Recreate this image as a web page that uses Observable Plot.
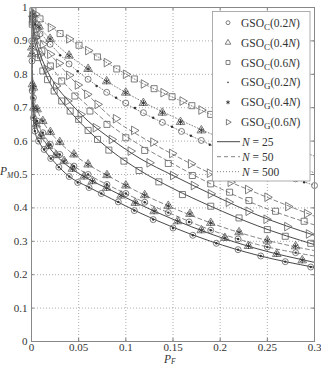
<!DOCTYPE html>
<html>
<head>
<meta charset="utf-8">
<script src="https://cdn.jsdelivr.net/npm/d3@7"></script>
<script src="https://cdn.jsdelivr.net/npm/@observablehq/plot@0.6"></script>
<style>
  body { margin: 0; background: #fff; }
  svg { display: block; }
</style>
</head>
<body>
<div id="chart"></div>
<script>
// Axis ticks
const xTicks = [0, 0.05, 0.1, 0.15, 0.2, 0.25, 0.3];
const xTickLabels = ["0", "0.05", "0.1", "0.15", "0.2", "0.25", "0.3"];
const yTicks = [0, 0.1, 0.2, 0.3, 0.4, 0.5, 0.6, 0.7, 0.8, 0.9, 1];
const yTickLabels = ["0", "0.1", "0.2", "0.3", "0.4", "0.5", "0.6", "0.7", "0.8", "0.9", "1"];

// Analytical curves: P_M at these P_F values
const pf = [0, 0.0005, 0.0015, 0.004, 0.008, 0.015, 0.025, 0.04, 0.06, 0.085, 0.115, 0.15, 0.19, 0.24, 0.3];
// N = 25
const pm25_02  = [1, 0.78, 0.69, 0.625, 0.598, 0.568, 0.535, 0.494, 0.463, 0.427, 0.385, 0.342, 0.300, 0.258, 0.222];
const pm25_04  = [1, 0.82, 0.73, 0.660, 0.625, 0.595, 0.560, 0.522, 0.487, 0.452, 0.410, 0.366, 0.322, 0.277, 0.237];
const pm25_06C = [1, 0.97, 0.935, 0.89, 0.85, 0.80, 0.748, 0.692, 0.632, 0.570, 0.512, 0.458, 0.405, 0.346, 0.290];
const pm25_06G = [1, 0.975, 0.95, 0.91, 0.87, 0.82, 0.770, 0.718, 0.660, 0.605, 0.548, 0.497, 0.442, 0.378, 0.318];
// N = 50
const pm50_02  = [1, 0.84, 0.75, 0.680, 0.645, 0.610, 0.575, 0.535, 0.500, 0.463, 0.423, 0.380, 0.334, 0.290, 0.256];
const pm50_04  = [1, 0.86, 0.78, 0.715, 0.680, 0.645, 0.610, 0.570, 0.530, 0.490, 0.445, 0.400, 0.355, 0.310, 0.272];
const pm50_06C = [1, 0.98, 0.958, 0.925, 0.89, 0.85, 0.807, 0.758, 0.705, 0.645, 0.588, 0.532, 0.472, 0.408, 0.349];
const pm50_06G = [1, 0.987, 0.968, 0.943, 0.913, 0.878, 0.843, 0.795, 0.738, 0.670, 0.615, 0.560, 0.503, 0.443, 0.375];
// N = 500
const pm500_02 = [1, 0.985, 0.97, 0.95, 0.932, 0.905, 0.875, 0.831, 0.785, 0.737, 0.689, 0.641, 0.589, 0.530, 0.467];
const pm500_04 = [1, 0.99, 0.98, 0.962, 0.943, 0.92, 0.893, 0.856, 0.816, 0.770, 0.722, 0.673, 0.622, 0.565, 0.505];
const pm500_06 = [1, 0.996, 0.99, 0.98, 0.969, 0.953, 0.933, 0.905, 0.871, 0.826, 0.777, 0.731, 0.680, 0.620, 0.555];

// Simulated points [P_F, P_M]
const simC02_25 = [[0.0002,0.9],[0.0008,0.75],[0.002,0.67],[0.0035,0.63],[0.0075,0.60],[0.0134,0.575],[0.0204,0.548],[0.029,0.522],[0.04,0.494],[0.049,0.476],[0.061,0.461],[0.074,0.443],[0.092,0.418],[0.109,0.392],[0.129,0.365],[0.15,0.34],[0.171,0.318],[0.196,0.294],[0.219,0.275],[0.243,0.256],[0.269,0.239],[0.296,0.223]];
const simG02_25 = [[0.0002,0.9],[0.0008,0.75],[0.002,0.67],[0.0035,0.63],[0.0075,0.60],[0.0134,0.575],[0.0204,0.548],[0.029,0.522],[0.04,0.494],[0.049,0.476],[0.061,0.461],[0.074,0.443],[0.092,0.418],[0.109,0.392],[0.129,0.365],[0.15,0.34],[0.171,0.318],[0.196,0.294],[0.219,0.275],[0.243,0.256],[0.269,0.239],[0.296,0.223]];
const simC04_25 = [[0.0003,0.88],[0.001,0.77],[0.0025,0.70],[0.005,0.65],[0.01,0.615],[0.018,0.585],[0.026,0.558],[0.0346,0.54],[0.0434,0.517],[0.0557,0.494],[0.0646,0.48],[0.0797,0.46],[0.095,0.437],[0.11,0.415],[0.13,0.39],[0.155,0.36],[0.18,0.333],[0.205,0.31],[0.23,0.286],[0.26,0.262],[0.287,0.243]];
const simG04_25 = [[0.0003,0.88],[0.001,0.77],[0.0025,0.70],[0.005,0.65],[0.01,0.615],[0.018,0.585],[0.026,0.558],[0.0346,0.54],[0.0434,0.517],[0.0557,0.494],[0.0646,0.48],[0.0797,0.46],[0.095,0.437],[0.11,0.415],[0.13,0.39],[0.155,0.36],[0.18,0.333],[0.205,0.31],[0.23,0.286],[0.26,0.262],[0.287,0.243]];
const simC06_25 = [[0.0008,0.95],[0.003,0.9],[0.007,0.85],[0.012,0.81],[0.017,0.784],[0.024,0.75],[0.032,0.72],[0.041,0.69],[0.05,0.665],[0.06,0.632],[0.07,0.605],[0.082,0.573],[0.098,0.54],[0.114,0.512],[0.135,0.478],[0.16,0.44],[0.19,0.405],[0.22,0.37],[0.25,0.335],[0.269,0.315],[0.296,0.294]];
const simG06_25 = [[0.001,0.96],[0.004,0.91],[0.009,0.86],[0.016,0.815],[0.026,0.765],[0.038,0.72],[0.052,0.68],[0.068,0.64],[0.085,0.605],[0.105,0.57],[0.125,0.535],[0.15,0.497],[0.172,0.467],[0.19,0.442],[0.209,0.417],[0.23,0.39],[0.249,0.366],[0.271,0.344],[0.294,0.322]];

const simC02_50 = [[0.0005,0.84],[0.002,0.73],[0.006,0.66],[0.012,0.625],[0.02,0.59],[0.03,0.56],[0.045,0.525],[0.06,0.5],[0.08,0.47],[0.1,0.443],[0.12,0.417],[0.145,0.386],[0.167,0.358],[0.19,0.333],[0.219,0.307],[0.25,0.283],[0.28,0.266]];
const simG02_50 = [[0.0005,0.84],[0.002,0.73],[0.006,0.66],[0.012,0.625],[0.02,0.59],[0.03,0.56],[0.045,0.525],[0.06,0.5],[0.08,0.47],[0.1,0.443],[0.12,0.417],[0.145,0.386],[0.167,0.358],[0.19,0.333],[0.219,0.307],[0.25,0.283],[0.28,0.266]];
const simC04_50 = [[0.0005,0.86],[0.002,0.76],[0.006,0.695],[0.012,0.66],[0.02,0.627],[0.03,0.597],[0.045,0.56],[0.06,0.53],[0.08,0.498],[0.1,0.467],[0.12,0.438],[0.145,0.406],[0.168,0.382],[0.19,0.355],[0.22,0.327],[0.25,0.302],[0.28,0.285]];
const simG04_50 = [[0.0005,0.86],[0.002,0.76],[0.006,0.695],[0.012,0.66],[0.02,0.627],[0.03,0.597],[0.045,0.56],[0.06,0.53],[0.08,0.498],[0.1,0.467],[0.12,0.438],[0.145,0.406],[0.168,0.382],[0.19,0.355],[0.22,0.327],[0.25,0.302],[0.28,0.285]];
const simC06_50 = [[0.001,0.965],[0.005,0.915],[0.011,0.87],[0.02,0.825],[0.032,0.78],[0.046,0.735],[0.062,0.69],[0.08,0.65],[0.1,0.61],[0.12,0.572],[0.145,0.533],[0.1705,0.497],[0.19,0.472],[0.21,0.447],[0.2305,0.422],[0.2587,0.39],[0.289,0.36]];
const simG06_50 = [[0.001,0.975],[0.005,0.935],[0.012,0.89],[0.0197,0.86],[0.029,0.833],[0.0398,0.797],[0.049,0.768],[0.059,0.74],[0.07,0.71],[0.0894,0.667],[0.1087,0.632],[0.129,0.597],[0.149,0.563],[0.169,0.532],[0.189,0.504],[0.211,0.477],[0.2295,0.455],[0.25,0.432],[0.272,0.404],[0.292,0.383]];

const simC02_500 = [[0.0015,0.97],[0.009,0.921],[0.0197,0.89],[0.0398,0.831],[0.06,0.785],[0.0797,0.746],[0.0999,0.714],[0.1186,0.685],[0.1387,0.656],[0.159,0.629],[0.18,0.602],[0.2,0.576],[0.22,0.552],[0.24,0.53],[0.26,0.507],[0.28,0.487],[0.3,0.467]];
const simG02_500 = [[0.004,0.95],[0.0303,0.857],[0.049,0.809],[0.069,0.765],[0.0897,0.73],[0.1097,0.699],[0.129,0.67],[0.149,0.643],[0.169,0.616],[0.189,0.589],[0.21,0.564],[0.23,0.541],[0.25,0.518],[0.27,0.497],[0.289,0.477]];
const simC04_500 = [[0.0015,0.98],[0.008,0.943],[0.0197,0.906],[0.0398,0.856],[0.06,0.816],[0.0797,0.779],[0.0999,0.745],[0.1186,0.714],[0.1387,0.685],[0.158,0.657],[0.18,0.632],[0.2,0.61],[0.22,0.587],[0.24,0.565],[0.26,0.545],[0.28,0.525]];
const simG04_500 = [[0.0015,0.98],[0.008,0.943],[0.0197,0.906],[0.0398,0.856],[0.06,0.816],[0.0797,0.779],[0.0999,0.745],[0.1186,0.714],[0.1387,0.685],[0.158,0.657],[0.18,0.632],[0.2,0.61],[0.22,0.587],[0.24,0.565],[0.26,0.545],[0.28,0.525]];
const simC06_500 = [[0.0015,0.99],[0.009,0.966],[0.0303,0.922],[0.0504,0.887],[0.0699,0.852],[0.0904,0.816],[0.109,0.786],[0.13,0.757],[0.149,0.733],[0.17,0.706],[0.19,0.68],[0.21,0.655],[0.23,0.632],[0.25,0.608],[0.27,0.585],[0.29,0.565]];
const simG06_500 = [[0.004,0.98],[0.0204,0.94],[0.0398,0.906],[0.06,0.871],[0.0797,0.835],[0.1,0.8],[0.119,0.771],[0.1398,0.745],[0.16,0.72],[0.18,0.693],[0.2,0.668],[0.22,0.643],[0.24,0.62],[0.26,0.597],[0.28,0.575]];

// Right-pointing open triangle marker
const triangleRight = {
  draw(ctx, size) {
    const y = Math.sqrt(size / (Math.sqrt(3) * 3));
    ctx.moveTo(2 * y, 0);
    ctx.lineTo(-y, -Math.sqrt(3) * y);
    ctx.lineTo(-y, Math.sqrt(3) * y);
    ctx.closePath();
  }
};

const markerGray = "#5e5e5e";
const styles = {
  C02: {symbol: d3.symbolCircle, r: 3, stroke: markerGray, fill: "none", strokeWidth: 0.8},
  C04: {symbol: d3.symbolTriangle, r: 3.2, stroke: markerGray, fill: "none", strokeWidth: 0.8},
  C06: {symbol: d3.symbolSquare, r: 3.4, stroke: markerGray, fill: "none", strokeWidth: 0.8},
  G02: {symbol: d3.symbolCircle, r: 1.2, stroke: "none", fill: "#333"},
  G04: {symbol: d3.symbolAsterisk, r: 2.8, stroke: "#333", fill: "none", strokeWidth: 0.9},
  G06: {symbol: triangleRight, r: 3.2, stroke: markerGray, fill: "none", strokeWidth: 0.8}
};

const lineGroups = [
  {n: 25, stroke: "#333", dash: null, width: 0.9, sets: [pm25_02, pm25_04, pm25_06C, pm25_06G]},
  {n: 50, stroke: "#666", dash: "4,3", width: 0.8, sets: [pm50_02, pm50_04, pm50_06C, pm50_06G]},
  {n: 500, stroke: "#777", dash: "1,2", width: 0.9, sets: [pm500_02, pm500_04, pm500_06]}
];

const simSets = [
  [simC02_25, "C02"], [simG02_25, "G02"], [simC04_25, "C04"], [simG04_25, "G04"], [simC06_25, "C06"], [simG06_25, "G06"],
  [simC02_50, "C02"], [simG02_50, "G02"], [simC04_50, "C04"], [simG04_50, "G04"], [simC06_50, "C06"], [simG06_50, "G06"],
  [simC02_500, "C02"], [simG02_500, "G02"], [simC04_500, "C04"], [simG04_500, "G04"], [simC06_500, "C06"], [simG06_500, "G06"]
];

const lineMarks = lineGroups.map(g => {
  const rows = g.sets.flatMap((pm, k) => pf.map((x, i) => ({pf: x, pm: pm[i], id: k})));
  return Plot.line(rows, {x: "pf", y: "pm", z: "id", stroke: g.stroke, strokeWidth: g.width,
    strokeDasharray: g.dash, curve: "monotone-x"});
});

const dotMarks = simSets.map(([data, key]) =>
  Plot.dot(data, {x: d => d[0], y: d => d[1], ...styles[key]}));

const gridStyle = {stroke: "#8a8a8a", strokeOpacity: 1, strokeWidth: 0.7, strokeDasharray: "1,2"};
const tickStroke = "#777";

const svg = Plot.plot({
  width: 321,
  height: 366,
  marginLeft: 31,
  marginRight: 7,
  marginTop: 7,
  marginBottom: 25,
  x: {domain: [0, 0.3]},
  y: {domain: [0, 1]},
  style: {fontFamily: "'Liberation Serif', 'DejaVu Serif', serif", fontSize: "11px", color: "#333", background: "#fff"},
  marks: [
    Plot.gridX(xTicks.slice(1, -1), gridStyle),
    Plot.gridY(yTicks.slice(1, -1), gridStyle),
    ...lineMarks,
    ...dotMarks,
    Plot.ruleX(xTicks, {x: d => d, y1: 0, y2: 0.009, stroke: tickStroke}),
    Plot.ruleX(xTicks, {x: d => d, y1: 0.991, y2: 1, stroke: tickStroke}),
    Plot.ruleY(yTicks, {y: d => d, x1: 0, x2: 0.003, stroke: tickStroke}),
    Plot.ruleY(yTicks, {y: d => d, x1: 0.297, x2: 0.3, stroke: tickStroke}),
    Plot.frame({stroke: "#888"}),
    Plot.axisX(xTicks, {tickSize: 0, tickPadding: 1.5, fontSize: 11, label: null,
      tickFormat: d => xTickLabels[xTicks.indexOf(d)]}),
    Plot.axisY(yTicks, {tickSize: 0, tickPadding: 4, fontSize: 11, label: null,
      tickFormat: d => yTickLabels[yTicks.indexOf(d)]})
  ]
});

document.getElementById("chart").appendChild(svg);

const root = d3.select(svg);
const serif = "'Liberation Serif', 'DejaVu Serif', serif";

// Axis titles
const xt = root.append("text").attr("x", 164).attr("y", 362.5).attr("text-anchor", "start")
  .attr("font-family", serif).attr("font-size", 11.5).attr("fill", "#333");
xt.append("tspan").attr("font-style", "italic").text("P");
xt.append("tspan").attr("font-style", "italic").attr("font-size", 7.5).attr("dy", 1.5).text("F");

const yt = root.append("text").attr("x", 0).attr("y", 175).attr("text-anchor", "start")
  .attr("font-family", serif).attr("font-size", 11.5).attr("fill", "#333");
yt.append("tspan").attr("font-style", "italic").text("P");
yt.append("tspan").attr("font-style", "italic").attr("font-size", 7.5).attr("dy", 3).text("M");

// Legend
const legend = [
  {sub: "C", frac: "0.2", key: "C02"},
  {sub: "C", frac: "0.4", key: "C04"},
  {sub: "C", frac: "0.6", key: "C06"},
  {sub: "G", frac: "0.2", key: "G02"},
  {sub: "G", frac: "0.4", key: "G04"},
  {sub: "G", frac: "0.6", key: "G06"}
];
const lg = root.append("g").attr("font-family", serif).attr("fill", "#333").attr("text-anchor", "start");
lg.append("rect").attr("x", 212.5).attr("y", 11.5).attr("width", 97.5).attr("height", 169.5)
  .attr("fill", "#fff").attr("stroke", "#999").attr("stroke-width", 0.8);

legend.forEach((e, i) => {
  const y = 22.7 + i * 19.9;
  const s = styles[e.key];
  const rr = s.r * 0.65;
  lg.append("path")
    .attr("transform", `translate(228,${y})`)
    .attr("d", d3.symbol(s.symbol, Math.PI * rr * rr)())
    .attr("fill", s.fill).attr("stroke", s.stroke).attr("stroke-width", s.strokeWidth || 0);
  const t = lg.append("text").attr("x", 241).attr("y", y + 4).attr("font-size", 11.5);
  t.append("tspan").text("GSO");
  t.append("tspan").attr("font-size", 9).attr("dy", 3).text(e.sub);
  t.append("tspan").attr("dy", -3).text(`(${e.frac}`);
  t.append("tspan").attr("font-style", "italic").text("N");
  t.append("tspan").text(")");
});

lineGroups.forEach((g, i) => {
  const y = 141.7 + i * 15;
  lg.append("line").attr("x1", 217).attr("x2", 240).attr("y1", y).attr("y2", y)
    .attr("stroke", g.stroke).attr("stroke-width", g.width)
    .attr("stroke-dasharray", g.dash);
  const t = lg.append("text").attr("x", 242).attr("y", y + 4).attr("font-size", 11.5);
  t.append("tspan").attr("font-style", "italic").text("N");
  t.append("tspan").text(` = ${g.n}`);
});
</script>
</body>
</html>
